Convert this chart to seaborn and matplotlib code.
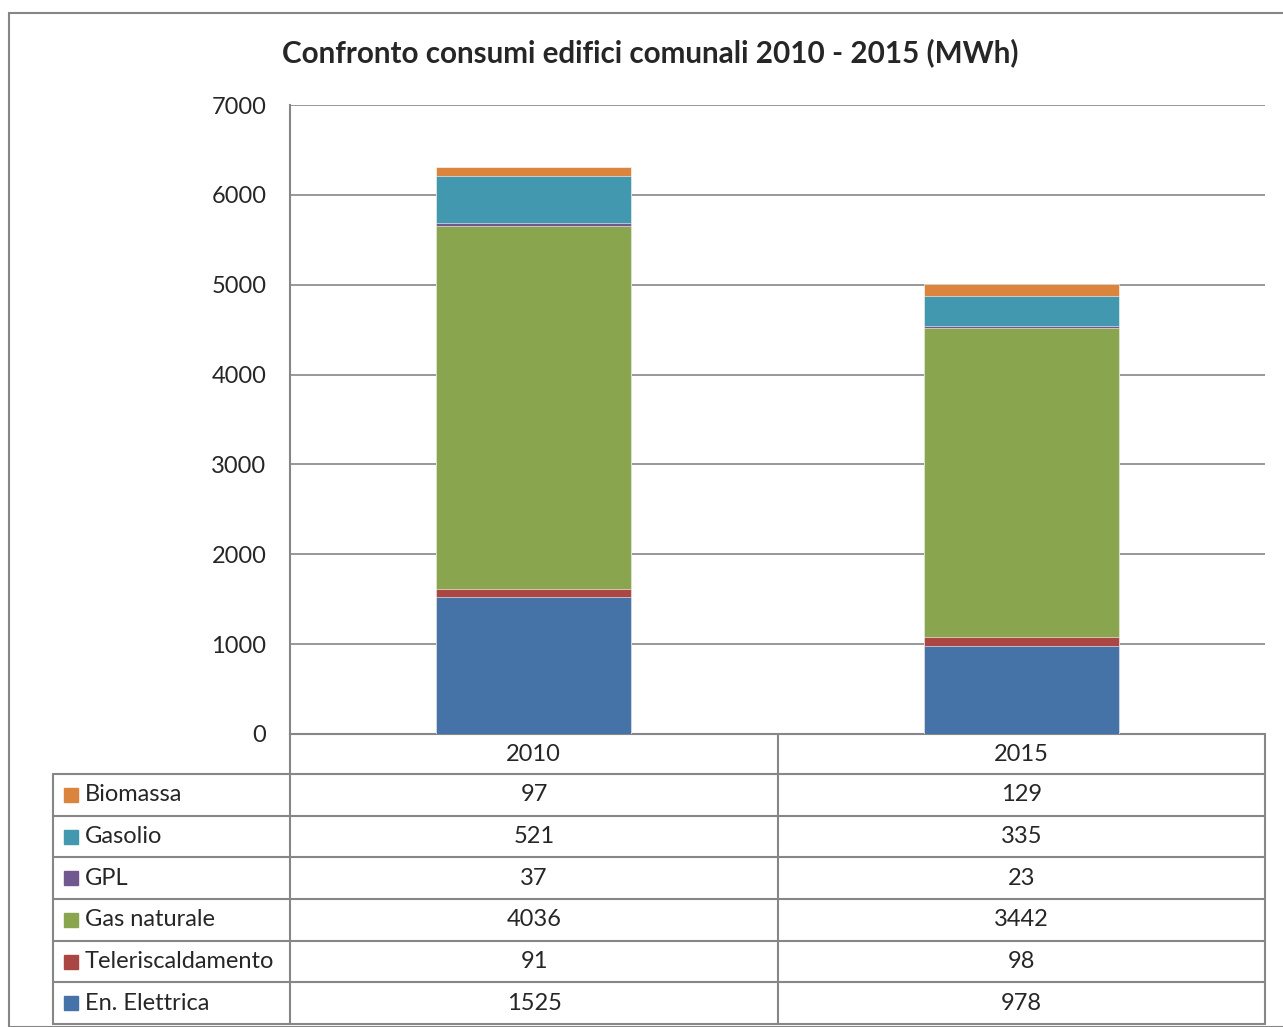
import numpy as np
import pandas as pd
import matplotlib.pyplot as plt
import seaborn as sns
from matplotlib.patches import Rectangle

# dati (MWh)
anni = ['2010', '2015']
serie = ['En. Elettrica', 'Teleriscaldamento', 'Gas naturale', 'GPL', 'Gasolio', 'Biomassa']
en_elettrica = [1525, 978]
teleriscaldamento = [91, 98]
gas_naturale = [4036, 3442]
gpl = [37, 23]
gasolio = [521, 335]
biomassa = [97, 129]
colori = ['#4572A7', '#AA4643', '#89A54E', '#71588F', '#4198AF', '#DB843D']

valori = [en_elettrica, teleriscaldamento, gas_naturale, gpl, gasolio, biomassa]
df = pd.DataFrame(np.array(valori).T, index=anni, columns=serie)
cum = df.cumsum(axis=1)

sns.set_style("white")
plt.rcParams['font.family'] = ['Lato', 'DejaVu Sans']

W, H = 1283, 1027
fig = plt.figure(figsize=(W / 100, H / 100), dpi=100)
grigio = '#868686'
fs = 17

# cornice esterna
fig.add_artist(Rectangle((9 / W, 0), 1.2, (H - 13) / H, transform=fig.transFigure,
                         fill=False, edgecolor=grigio, lw=1.5))

ax = fig.add_axes([290 / W, (H - 734) / H, 975 / W, 629 / H])

# barre impilate: si disegna dal totale verso il basso
for nome, col in reversed(list(zip(serie, colori))):
    d = pd.DataFrame({'anno': anni, 'val': cum[nome].values})
    sns.barplot(data=d, x='anno', y='val', color=col, saturation=1, width=0.4,
                edgecolor='white', linewidth=0.4, ax=ax, zorder=3)

ax.set_ylim(0, 7000)
ax.set_yticks(range(0, 7001, 1000))
ax.set_xlabel('')
ax.set_ylabel('')
ax.yaxis.grid(True, color=grigio, lw=1.2, zorder=0)
ax.set_axisbelow(True)
for s in ['top', 'right']:
    ax.spines[s].set_visible(False)
for s in ['left', 'bottom']:
    ax.spines[s].set_color(grigio)
    ax.spines[s].set_linewidth(1.5)
ax.tick_params(axis='y', length=7, color=grigio, width=1.2, labelsize=fs, pad=10)
ax.tick_params(axis='x', length=0, labelsize=fs, pad=7)
ax.set_title('Confronto consumi edifici comunali 2010 - 2015 (MWh)',
             fontsize=21.3, fontweight='bold', pad=31, x=0.37)

# tabella dati sotto il grafico
tx = fig.add_axes([53 / W, (H - 1024) / H, (1265 - 53) / W, (1024 - 734) / H])
tx.set_xlim(53, 1265)
tx.set_ylim(1024, 734)
tx.axis('off')
righe = np.linspace(774, 1024, 7)
for y in righe:
    tx.plot([53, 1265], [y, y], color=grigio, lw=1.5, clip_on=False)
tx.plot([53, 53], [774, 1024], color=grigio, lw=1.5, clip_on=False)
for x in [290, 778, 1265]:
    tx.plot([x, x], [734, 1024], color=grigio, lw=1.5, clip_on=False)

centri_col = [534, 1021.5]
for i, (nome, col) in enumerate(reversed(list(zip(serie, colori)))):
    yc = (righe[i] + righe[i + 1]) / 2
    tx.add_patch(Rectangle((64, yc - 7), 14, 14, color=col))
    tx.text(85, yc, nome, fontsize=fs, va='center', ha='left')
    for j, xc in enumerate(centri_col):
        tx.text(xc, yc, str(df.loc[anni[j], nome]), fontsize=fs, va='center', ha='center')

fig.savefig('out.png', dpi=100)
